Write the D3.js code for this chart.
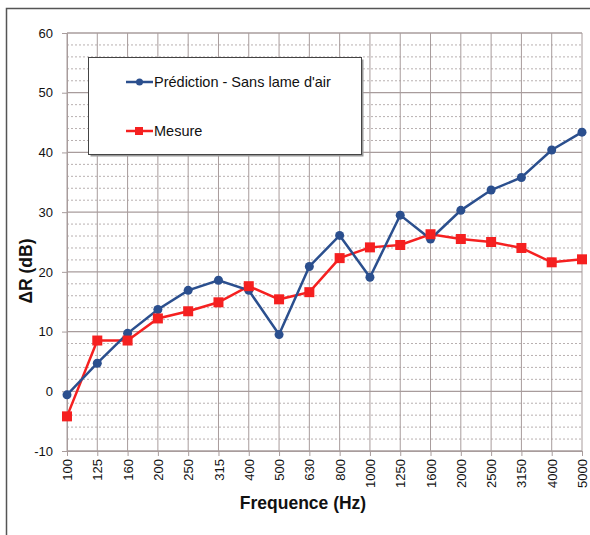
<!DOCTYPE html>
<html>
<head>
<meta charset="utf-8">
<script src="https://cdn.jsdelivr.net/npm/d3@7"></script>
<style>
  body { margin: 0; background: #fff; }
  svg { font-family: Arial, "Liberation Sans", sans-serif; }
</style>
</head>
<body>
<div id="vis"></div>
<script>
var frequencies = ["100", "125", "160", "200", "250", "315", "400", "500", "630", "800",
    "1000", "1250", "1600", "2000", "2500", "3150", "4000", "5000"];
var prediction = [-0.6, 4.7, 9.7, 13.7, 16.9, 18.6, 16.9, 9.5, 20.9, 26.1,
    19.1, 29.5, 25.5, 30.3, 33.7, 35.8, 40.4, 43.4];
var mesure = [-4.2, 8.5, 8.5, 12.2, 13.4, 14.9, 17.6, 15.4, 16.6, 22.3,
    24.1, 24.5, 26.3, 25.5, 25.0, 24.0, 21.6, 22.1];
var yTicks = [-10, 0, 10, 20, 30, 40, 50, 60];
var seriesNames = ["Prédiction - Sans lame d'air", "Mesure"];

var width = 590, height = 535;
var svg = d3.select("#vis").append("svg")
    .attr("width", width)
    .attr("height", height);

// outer frame
svg.append("rect")
    .attr("x", 6.5).attr("y", 8.5)
    .attr("width", 700).attr("height", 700)
    .attr("fill", "none")
    .attr("stroke", "#555")
    .attr("stroke-width", 1.5);

var plotLeft = 67, plotRight = 582, plotTop = 33, plotBottom = 451;

var x = d3.scalePoint()
    .domain(frequencies)
    .range([plotLeft, plotRight]);

var y = d3.scaleLinear()
    .domain([-10, 60])
    .range([plotBottom, plotTop]);

var gridColor = "#a89c9c";

// minor dotted lines every 2 dB
var minor = d3.range(-10, 60, 2).filter(function (v) { return v % 10 !== 0; });
svg.append("g").selectAll("line")
    .data(minor)
    .enter().append("line")
    .attr("x1", plotLeft).attr("x2", plotRight)
    .attr("y1", function (d) { return y(d); })
    .attr("y2", function (d) { return y(d); })
    .attr("stroke", "#b8b0b0")
    .attr("stroke-width", 1)
    .attr("stroke-dasharray", "2,2");

// vertical grid
svg.append("g").selectAll("line")
    .data(frequencies)
    .enter().append("line")
    .attr("x1", function (d) { return x(d); })
    .attr("x2", function (d) { return x(d); })
    .attr("y1", plotTop).attr("y2", plotBottom)
    .attr("stroke", gridColor)
    .attr("stroke-width", 1);

// major horizontal grid
svg.append("g").selectAll("line")
    .data(yTicks)
    .enter().append("line")
    .attr("x1", plotLeft).attr("x2", plotRight)
    .attr("y1", function (d) { return y(d); })
    .attr("y2", function (d) { return y(d); })
    .attr("stroke", gridColor)
    .attr("stroke-width", 1.3);

// y axis
var yAxis = svg.append("g")
    .attr("transform", "translate(" + plotLeft + ",0)")
    .call(d3.axisLeft(y).tickValues(yTicks).tickFormat(function (d) { return String(d); })
        .tickSize(5).tickPadding(9));
yAxis.select(".domain").attr("stroke", gridColor);
yAxis.selectAll(".tick line").attr("stroke", gridColor);
yAxis.selectAll("text")
    .attr("font-size", 13)
    .attr("fill", "#111")
    .attr("font-family", "Arial, 'Liberation Sans', sans-serif");

// x axis
var xAxis = svg.append("g")
    .attr("transform", "translate(0," + plotBottom + ")")
    .call(d3.axisBottom(x).tickSize(5).tickPadding(4));
xAxis.select(".domain").attr("stroke", gridColor);
xAxis.selectAll(".tick line").attr("stroke", gridColor);
xAxis.selectAll("text")
    .attr("font-size", 13)
    .attr("fill", "#111")
    .attr("font-family", "Arial, 'Liberation Sans', sans-serif")
    .attr("transform", "rotate(-90)")
    .attr("text-anchor", "end")
    .attr("x", -8)
    .attr("y", 0)
    .attr("dy", "0.35em");

// axis titles
svg.append("text")
    .attr("transform", "translate(32,271) rotate(-90)")
    .attr("text-anchor", "middle")
    .attr("font-size", 17.5)
    .attr("font-weight", "bold")
    .attr("fill", "#111")
    .text("ΔR (dB)");

svg.append("text")
    .attr("x", 303).attr("y", 509)
    .attr("text-anchor", "middle")
    .attr("font-size", 17.5)
    .attr("font-weight", "bold")
    .attr("fill", "#111")
    .text("Frequence (Hz)");

var line = d3.line()
    .x(function (d, i) { return x(frequencies[i]); })
    .y(function (d) { return y(d); });

var blue = "#2b4f8e", red = "#f52020";

svg.append("path")
    .datum(mesure)
    .attr("d", line)
    .attr("fill", "none")
    .attr("stroke", red)
    .attr("stroke-width", 2.5);

svg.append("path")
    .datum(prediction)
    .attr("d", line)
    .attr("fill", "none")
    .attr("stroke", blue)
    .attr("stroke-width", 2.5);

svg.append("g").selectAll("circle")
    .data(prediction)
    .enter().append("circle")
    .attr("cx", function (d, i) { return x(frequencies[i]); })
    .attr("cy", function (d) { return y(d); })
    .attr("r", 4.5)
    .attr("fill", blue);

svg.append("g").selectAll("rect")
    .data(mesure)
    .enter().append("rect")
    .attr("x", function (d, i) { return x(frequencies[i]) - 5; })
    .attr("y", function (d) { return y(d) - 5; })
    .attr("width", 10).attr("height", 10)
    .attr("fill", red);

// legend
var lg = svg.append("g");
lg.append("rect")
    .attr("x", 90.5).attr("y", 59.5)
    .attr("width", 273).attr("height", 97)
    .attr("fill", "#999");
lg.append("rect")
    .attr("x", 88.5).attr("y", 57.5)
    .attr("width", 273).attr("height", 97)
    .attr("fill", "#fff")
    .attr("stroke", "#444")
    .attr("stroke-width", 1);

var items = [
    {name: seriesNames[0], color: blue, shape: "circle", ly: 82},
    {name: seriesNames[1], color: red, shape: "square", ly: 131}
];
items.forEach(function (it) {
    lg.append("line")
        .attr("x1", 126).attr("x2", 153)
        .attr("y1", it.ly).attr("y2", it.ly)
        .attr("stroke", it.color)
        .attr("stroke-width", 2.5);
    if (it.shape === "circle") {
        lg.append("circle").attr("cx", 139.5).attr("cy", it.ly).attr("r", 3.5).attr("fill", it.color);
    } else {
        lg.append("rect").attr("x", 135).attr("y", it.ly - 4).attr("width", 8).attr("height", 8).attr("fill", it.color);
    }
    lg.append("text")
        .attr("x", 154).attr("y", it.ly)
        .attr("dy", "0.35em")
        .attr("font-size", 14.5)
        .attr("fill", "#111")
        .text(it.name);
});
</script>
</body>
</html>
